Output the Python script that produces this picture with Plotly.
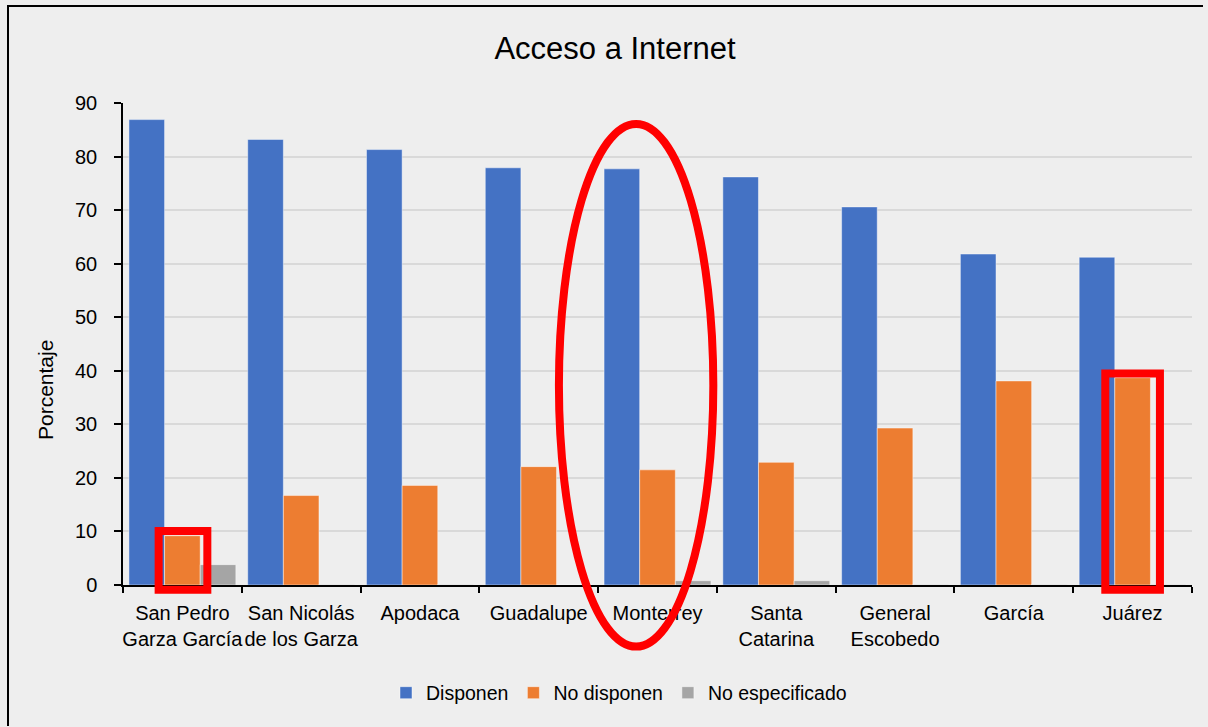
import plotly.graph_objects as go

# Municipalities of the Monterrey metro area
municipios = [
    "San Pedro<br>Garza García", "San Nicolás<br>de los Garza", "Apodaca",
    "Guadalupe", "Monterrey", "Santa<br>Catarina", "General<br>Escobedo",
    "García", "Juárez",
]
# Share of households (%) by internet access
disponen = [86.9, 83.2, 81.3, 77.9, 77.7, 76.2, 70.6, 61.8, 61.2]
no_disponen = [9.2, 16.7, 18.6, 22.1, 21.5, 22.9, 29.3, 38.1, 38.7]
no_especificado = [3.8, 0.1, 0.1, 0.0, 0.8, 0.8, 0.1, 0.1, 0.1]

y_ticks = list(range(0, 91, 10))

FONT = "Liberation Sans, Arial, sans-serif"
BG = "#EEEEEE"
W, H = 1208, 727
ML, MR, MT, MB = 123, 16, 103, 142
PW, PH = W - ML - MR, H - MT - MB
N = len(municipios)
YMAX = 90


def cx(c):
    """Category position (index units) -> paper x."""
    return (c + 0.5) / N


def vy(v):
    """Value -> paper y."""
    return v / YMAX


def px_x(p):
    return (p - ML) / PW


def px_y(p):
    return (H - MB - p) / PH


fig = go.Figure()
series = [
    ("Disponen", disponen, "#4472C4"),
    ("No disponen", no_disponen, "#ED7D31"),
    ("No especificado", no_especificado, "#A5A5A5"),
]
for name, vals, color in series:
    fig.add_trace(go.Bar(
        x=municipios, y=vals, name=name,
        marker=dict(color=color, line=dict(color="rgba(255,255,255,0.45)", width=1)),
    ))

RED = "#FF0000"
shapes = []
# Highlight box: San Pedro Garza García, "No disponen"
i = 0
shapes.append(dict(type="rect", xref="paper", yref="paper",
                   x0=cx(i - 0.20), x1=cx(i + 0.21),
                   y0=vy(-0.9), y1=vy(no_disponen[i] + 0.9),
                   line=dict(color=RED, width=8), fillcolor="rgba(0,0,0,0)"))
# Highlight box: Juárez, "No disponen"
i = 8
shapes.append(dict(type="rect", xref="paper", yref="paper",
                   x0=cx(i - 0.23), x1=cx(i + 0.23),
                   y0=vy(-0.9), y1=vy(no_disponen[i] + 0.8),
                   line=dict(color=RED, width=8), fillcolor="rgba(0,0,0,0)"))
# Ellipse around Monterrey
i = 4
shapes.append(dict(type="circle", xref="paper", yref="paper",
                   x0=cx(i - 0.18 - 0.65), x1=cx(i - 0.18 + 0.65),
                   y0=vy(-11.5), y1=vy(86.1),
                   line=dict(color=RED, width=8), fillcolor="rgba(0,0,0,0)"))
# Chart frame: left and top edges
frame = dict(color="black", width=2)
shapes.append(dict(type="line", xref="paper", yref="paper", layer="below",
                   x0=px_x(8), x1=px_x(8), y0=px_y(H - 1), y1=px_y(6), line=frame))
shapes.append(dict(type="line", xref="paper", yref="paper", layer="below",
                   x0=px_x(7), x1=px_x(W - 5), y0=px_y(6), y1=px_y(6), line=frame))

fig.update_layout(
    width=W, height=H, autosize=False,
    margin=dict(l=ML, r=MR, t=MT, b=MB, pad=0),
    paper_bgcolor=BG, plot_bgcolor=BG,
    font=dict(family=FONT, size=20, color="#000000"),
    barmode="group", bargap=0.1, bargroupgap=0,
    title=dict(text="Acceso a Internet", x=615 / W, xref="container", xanchor="center",
               y=1 - 48 / H, yref="container", yanchor="middle",
               font=dict(family=FONT, size=31, color="#000000")),
    legend=dict(orientation="h", x=px_x(619), xanchor="center",
                y=px_y(693), yanchor="middle", bgcolor="rgba(0,0,0,0)",
                font=dict(family=FONT, size=19.5), traceorder="normal"),
    shapes=shapes,
    annotations=[dict(text="Porcentaje", textangle=-90, xref="paper", yref="paper",
                      x=px_x(45), y=px_y(390), xanchor="center", yanchor="middle",
                      showarrow=False, font=dict(family=FONT, size=21))],
    xaxis=dict(showline=True, linecolor="black", linewidth=1.5,
               ticks="outside", tickson="boundaries", ticklen=6,
               tickcolor="black", tickwidth=1.5, showgrid=False, tickangle=0,
               ticklabelstandoff=9,
               tickfont=dict(family=FONT, size=20)),
    yaxis=dict(range=[0, YMAX], tickvals=y_ticks, showline=True,
               linecolor="black", linewidth=1.5, ticks="outside", ticklen=7,
               tickcolor="black", tickwidth=1.5, gridcolor="#D9D9D9",
               gridwidth=1.5, zeroline=False, ticklabelstandoff=13,
               tickfont=dict(family=FONT, size=20)),
)

fig.write_html("out.html")
